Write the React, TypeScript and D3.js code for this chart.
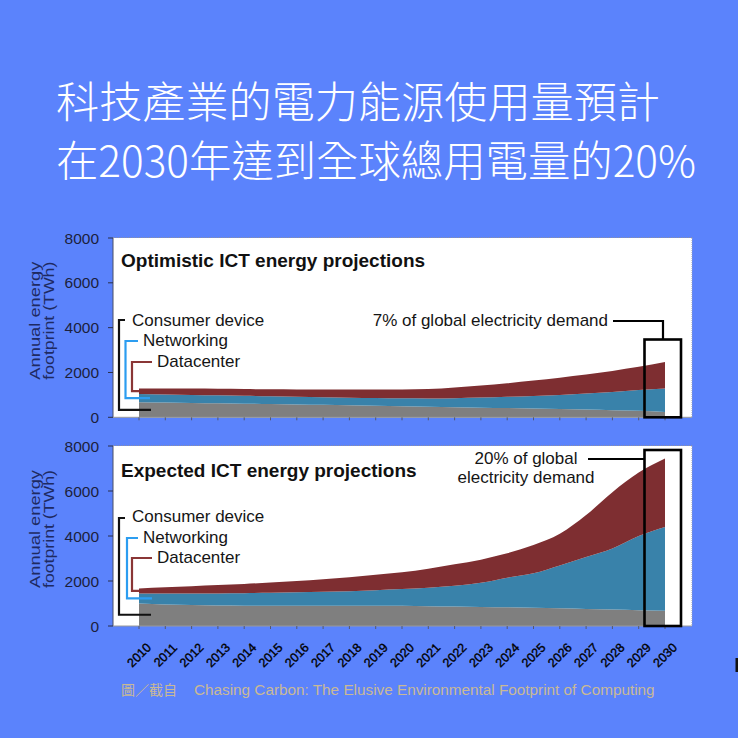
import React from "react";
import * as d3 from "d3";

// ---------- data ----------
const years = [2010, 2011, 2012, 2013, 2014, 2015, 2016, 2017, 2018, 2019, 2020, 2021, 2022, 2023, 2024, 2025, 2026, 2027, 2028, 2029, 2030];
const yearLabels = years.map((y) => String(y));
const yTicks = [0, 2000, 4000, 6000, 8000];
const seriesKeys = ["consumer", "networking", "datacenter"];
const seriesLabels = ["Consumer device", "Networking", "Datacenter"];

// Optimistic projections (TWh)
const optimisticConsumer = [670, 655, 640, 625, 610, 592, 575, 555, 535, 515, 495, 470, 450, 430, 410, 390, 370, 345, 320, 290, 240];
const optimisticNetworking = [370, 365, 360, 355, 350, 343, 340, 340, 340, 345, 350, 370, 405, 450, 505, 565, 630, 715, 810, 925, 1045];
const optimisticDatacenter = [250, 270, 280, 290, 300, 315, 330, 345, 365, 380, 400, 420, 475, 540, 605, 685, 770, 850, 940, 1035, 1185];

// Expected projections (TWh)
const expectedConsumer = [1000, 960, 930, 910, 905, 905, 905, 905, 905, 905, 900, 880, 865, 850, 830, 810, 790, 760, 730, 705, 680];
const expectedNetworking = [450, 480, 510, 540, 555, 570, 590, 615, 645, 685, 740, 820, 925, 1070, 1320, 1530, 1900, 2310, 2720, 3295, 3720];
const expectedDatacenter = [220, 280, 330, 370, 410, 455, 505, 560, 620, 690, 750, 850, 950, 1030, 1080, 1260, 1410, 1860, 2500, 2820, 3040];

const titleLines = ["科技產業的電力能源使用量預計", "在2030年達到全球總用電量的20%"];
const panelTitles = ["Optimistic ICT energy projections", "Expected ICT energy projections"];
const annotationTexts = [["7% of global electricity demand"], ["20% of global", "electricity demand"]];
const yTitleLines = ["Annual energy", "footprint (TWh)"];
const sourceLabel = "圖／截自";
const sourceText = "Chasing Carbon: The Elusive Environmental Footprint of Computing";

// ---------- styles ----------
const BG = "#5b83fc";
const AREA_COLORS = ["#7f7f7f", "#3982aa", "#7e2e31"];
const BRACKET_COLORS = ["#111111", "#2c9df0", "#8a3636"];
const SANS = "'Liberation Sans', Arial, Helvetica, sans-serif";
const CJK = "'Noto Sans CJK TC', 'Noto Sans CJK SC', sans-serif";

const x = d3.scaleLinear().domain([2010, 2030]).range([139, 665]);
const PANEL_LEFT = 113;
const PANEL_RIGHT = 692;

type PanelLayout = {
  yTop: number;
  yBottom: number;
  titleBaseline: number;
  legendBaselines: number[];
  legendTextX: number[];
  bracketTop: number[];
  bracketX: number[];
  bracketTopEnd: number[];
  bracketBottomEnd: number[];
  annotation: {
    anchor: "end" | "middle";
    textX: number;
    baselines: number[];
    leader: [number, number][];
    boxX0: number;
    boxX1: number;
    boxTop: number;
  };
};

const layouts: PanelLayout[] = [
  {
    yTop: 238,
    yBottom: 417.3,
    titleBaseline: 267,
    legendBaselines: [326, 346, 367],
    legendTextX: [132, 143, 157],
    bracketTop: [320, 341, 362],
    bracketX: [119, 125.5, 132],
    bracketTopEnd: [125, 138, 152],
    bracketBottomEnd: [151, 150, 139],
    annotation: {
      anchor: "end",
      textX: 608,
      baselines: [326],
      leader: [[613, 321], [663, 321], [663, 339.5]],
      boxX0: 644.5,
      boxX1: 681,
      boxTop: 339.5,
    },
  },
  {
    yTop: 446,
    yBottom: 626,
    titleBaseline: 477,
    legendBaselines: [522, 543, 563],
    legendTextX: [132, 143, 157],
    bracketTop: [518, 538, 558],
    bracketX: [119, 127, 132],
    bracketTopEnd: [125, 138, 152],
    bracketBottomEnd: [151, 152, 139],
    annotation: {
      anchor: "middle",
      textX: 526,
      baselines: [464, 483],
      leader: [[588, 459], [644.5, 459]],
      boxX0: 644.5,
      boxX1: 681,
      boxTop: 450,
    },
  },
];

function Panel({ idx, consumer, networking, datacenter }: { idx: number; consumer: number[]; networking: number[]; datacenter: number[] }) {
  const L = layouts[idx];
  const y = d3.scaleLinear().domain([0, 8000]).range([L.yBottom, L.yTop]);
  const rows = years.map((yr, i) => ({ year: yr, consumer: consumer[i], networking: networking[i], datacenter: datacenter[i] }));
  const stacked = d3.stack<any>().keys(seriesKeys)(rows);
  const area = d3
    .area<any>()
    .x((d) => x(d.data.year))
    .y0((d) => y(d[0]))
    .y1((d) => y(d[1]))
    .curve(d3.curveMonotoneX);

  const ann = L.annotation;
  return (
    <g>
      {/* white panel */}
      <rect x={PANEL_LEFT} y={L.yTop} width={PANEL_RIGHT - PANEL_LEFT} height={L.yBottom - L.yTop} fill="#ffffff" />
      <line x1={PANEL_LEFT} x2={PANEL_RIGHT} y1={L.yTop - 0.5} y2={L.yTop - 0.5} stroke="#8a8fa8" strokeDasharray="1 1" />
      <line x1={PANEL_RIGHT} x2={PANEL_RIGHT} y1={L.yTop} y2={L.yBottom} stroke="#9aa0b5" strokeDasharray="1 1" />
      {/* areas */}
      {stacked.map((s, i) => (
        <path key={i} d={area(s) || ""} fill={AREA_COLORS[i]} />
      ))}
      {/* axes */}
      <line x1={PANEL_LEFT} x2={PANEL_LEFT} y1={L.yTop} y2={L.yBottom} stroke="#4a4f66" strokeWidth={1} />
      <line x1={PANEL_LEFT} x2={PANEL_RIGHT} y1={L.yBottom} y2={L.yBottom} stroke="#9a9a9a" strokeWidth={1} />
      {years.map((yr) => (
        <line key={yr} x1={x(yr)} x2={x(yr)} y1={L.yBottom} y2={L.yBottom + 3} stroke="#55596e" />
      ))}
      {yTicks.map((t) => (
        <g key={t}>
          <line x1={PANEL_LEFT - 5} x2={PANEL_LEFT} y1={y(t)} y2={y(t)} stroke="#2a2f48" />
          <text x={99} y={y(t)} dy="0.36em" textAnchor="end" fontFamily={SANS} fontSize={15.5} fill="#1c1f3c">
            {t}
          </text>
        </g>
      ))}
      {/* y title */}
      {yTitleLines.map((line, i) => (
        <text
          key={i}
          transform={`translate(${40 + i * 13.5},${(L.yTop + L.yBottom) / 2 - 7}) rotate(-90)`}
          textAnchor="middle"
          fontFamily={SANS}
          fontSize={14}
          fill="#1e2a62"
          textLength={118}
          lengthAdjust="spacingAndGlyphs"
        >
          {line}
        </text>
      ))}
      {/* panel title */}
      <text x={121} y={L.titleBaseline} fontFamily={SANS} fontWeight="bold" fontSize={19} fill="#111">
        {panelTitles[idx]}
      </text>
      {/* legend brackets */}
      {seriesLabels.map((lab, i) => {
        const s = stacked[i][0];
        const yb = y((s[0] + s[1]) / 2);
        const bx = L.bracketX[i];
        const yt = L.bracketTop[i];
        return (
          <g key={lab}>
            <path
              d={`M${L.bracketTopEnd[i]},${yt} H${bx} V${yb} H${L.bracketBottomEnd[i]}`}
              fill="none"
              stroke={BRACKET_COLORS[i]}
              strokeWidth={2.2}
            />
            <text x={L.legendTextX[i]} y={L.legendBaselines[i]} fontFamily={SANS} fontSize={17} fill="#151515">
              {lab}
            </text>
          </g>
        );
      })}
      {/* annotation */}
      {annotationTexts[idx].map((t, i) => (
        <text key={i} x={ann.textX} y={ann.baselines[i]} textAnchor={ann.anchor} fontFamily={SANS} fontSize={17} fill="#151515">
          {t}
        </text>
      ))}
      <path d={d3.line()(ann.leader) || ""} fill="none" stroke="#000" strokeWidth={2.2} />
      <rect
        x={ann.boxX0}
        y={ann.boxTop}
        width={ann.boxX1 - ann.boxX0}
        height={L.yBottom - ann.boxTop}
        fill="none"
        stroke="#000"
        strokeWidth={2.6}
      />
    </g>
  );
}

export default function App() {
  return (
    <svg width={738} height={738} style={{ position: "absolute", left: 0, top: 0, display: "block" }}>
      <rect x={0} y={0} width={738} height={738} fill={BG} />
      <text x={56} y={118} fontFamily={CJK} fontWeight={300} fontSize={43} fill="#ffffff" textLength={604} lengthAdjust="spacingAndGlyphs">
        {titleLines[0]}
      </text>
      <text x={56} y={177} fontFamily={CJK} fontWeight={300} fontSize={43} fill="#ffffff" textLength={640} lengthAdjust="spacingAndGlyphs">
        {titleLines[1]}
      </text>
      <Panel idx={0} consumer={optimisticConsumer} networking={optimisticNetworking} datacenter={optimisticDatacenter} />
      <Panel idx={1} consumer={expectedConsumer} networking={expectedNetworking} datacenter={expectedDatacenter} />
      {years.map((yr, i) => (
        <text
          key={yr}
          transform={`translate(${x(yr)},${655}) rotate(-45)`}
          textAnchor="middle"
          dy="0.35em"
          fontFamily={SANS}
          fontSize={12.5}
          fill="#000"
          stroke="#000"
          strokeWidth={0.35}
        >
          {yearLabels[i]}
        </text>
      ))}
      <text x={121} y={695} fill="#c9b995">
        <tspan fontFamily={CJK} fontSize={14}>{sourceLabel}</tspan>
        <tspan x={194} fontFamily={SANS} fontSize={15.3}>{sourceText}</tspan>
      </text>
      <rect x={735.5} y={658} width={2.5} height={14} fill="#111" />
    </svg>
  );
}
